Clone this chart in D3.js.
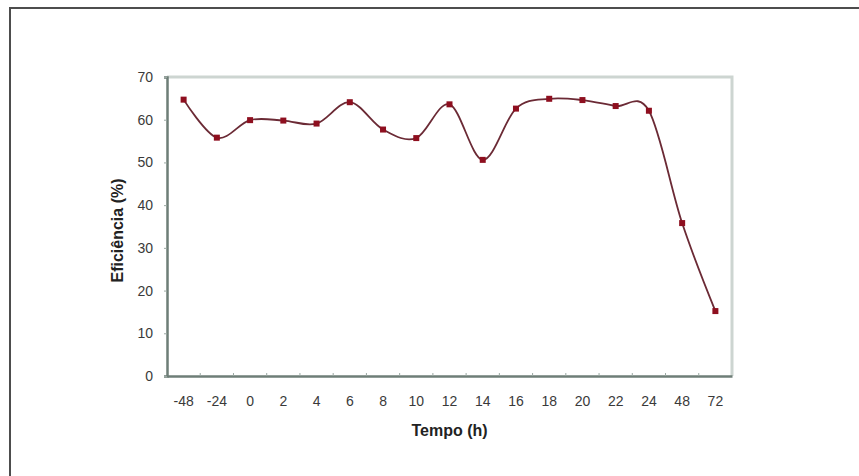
<!DOCTYPE html>
<html>
<head>
<meta charset="utf-8">
<script src="https://cdn.jsdelivr.net/npm/d3@7/dist/d3.min.js"></script>
<style>
  html, body { margin: 0; padding: 0; background: #fff; }
  svg { display: block; }
  text { font-family: "Liberation Sans", Arial, sans-serif; }
</style>
</head>
<body>
<svg id="chart" width="859" height="476"></svg>
<script>
// Sampling times (h) and measured efficiency (%)
const tempos = ["-48", "-24", "0", "2", "4", "6", "8", "10", "12", "14", "16", "18", "20", "22", "24", "48", "72"];
const eficiencia = [64.7, 55.8, 59.9, 59.8, 59.1, 64.1, 57.7, 55.7, 63.6, 50.6, 62.6, 64.9, 64.6, 63.2, 62.1, 35.8, 15.2];
const yTicks = [0, 10, 20, 30, 40, 50, 60, 70];

const svg = d3.select("#chart");
const W = 859, H = 476;
const m = { left: 167, right: 732, top: 77, bottom: 376 };

// outer frame (top and left edges)
svg.append("line").attr("x1", 9).attr("x2", W).attr("y1", 8).attr("y2", 8)
  .attr("stroke", "#4d4d4d").attr("stroke-width", 2);
svg.append("line").attr("x1", 10).attr("x2", 10).attr("y1", 7).attr("y2", H)
  .attr("stroke", "#4d4d4d").attr("stroke-width", 2);

const x = d3.scaleBand().domain(tempos).range([m.left, m.right]).padding(0);
const y = d3.scaleLinear().domain([0, 70]).range([m.bottom, m.top]);

// plot frame: light top and right edges
svg.append("path")
  .attr("d", `M${m.left},${m.top}H${m.right}V${m.bottom}`)
  .attr("fill", "none").attr("stroke", "#cdd5d1").attr("stroke-width", 3);

// y axis
const yAxis = svg.append("g").attr("transform", `translate(${m.left},0)`)
  .call(d3.axisLeft(y).tickValues(yTicks).tickSize(3).tickPadding(11).tickFormat(d3.format("d")));
yAxis.select(".domain").attr("stroke", "#6e7e77").attr("stroke-width", 2.5);
yAxis.selectAll(".tick line").attr("stroke", "#9aa8a2");
yAxis.selectAll(".tick text").attr("font-size", 14).attr("fill", "#3a3a3a");

// x axis: ticks sit between categories
const xAxis = svg.append("g").attr("transform", `translate(0,${m.bottom})`)
  .call(d3.axisBottom(x).tickSize(0).tickPadding(20));
xAxis.select(".domain").attr("stroke", "#6e7e77").attr("stroke-width", 2.5);
xAxis.selectAll(".tick text").attr("font-size", 14).attr("fill", "#3a3a3a");
xAxis.selectAll(".sep")
  .data(tempos.slice(1))
  .join("line")
  .attr("class", "sep")
  .attr("x1", d => x(d)).attr("x2", d => x(d))
  .attr("y1", -3).attr("y2", 0)
  .attr("stroke", "#9aa8a2");

// axis titles
svg.append("text")
  .attr("x", (m.left + m.right) / 2).attr("y", 436)
  .attr("text-anchor", "middle").attr("font-size", 16).attr("font-weight", "bold")
  .attr("fill", "#222").text("Tempo (h)");
svg.append("text")
  .attr("transform", `translate(123,${(m.top + m.bottom) / 2 + 4}) rotate(-90)`)
  .attr("text-anchor", "middle").attr("font-size", 16).attr("font-weight", "bold")
  .attr("fill", "#222").text("Eficiência (%)");

// smoothed series line
const pts = tempos.map((t, i) => [x(t) + x.bandwidth() / 2, y(eficiencia[i])]);
svg.append("path")
  .attr("d", d3.line().curve(d3.curveCardinal.tension(0))(pts))
  .attr("fill", "none").attr("stroke", "#6b2a35").attr("stroke-width", 1.8);

// square markers
svg.selectAll(".mk")
  .data(pts)
  .join("rect")
  .attr("class", "mk")
  .attr("x", d => d[0] - 3).attr("y", d => d[1] - 3)
  .attr("width", 6).attr("height", 6)
  .attr("fill", "#8e0f1f");
</script>
</body>
</html>
